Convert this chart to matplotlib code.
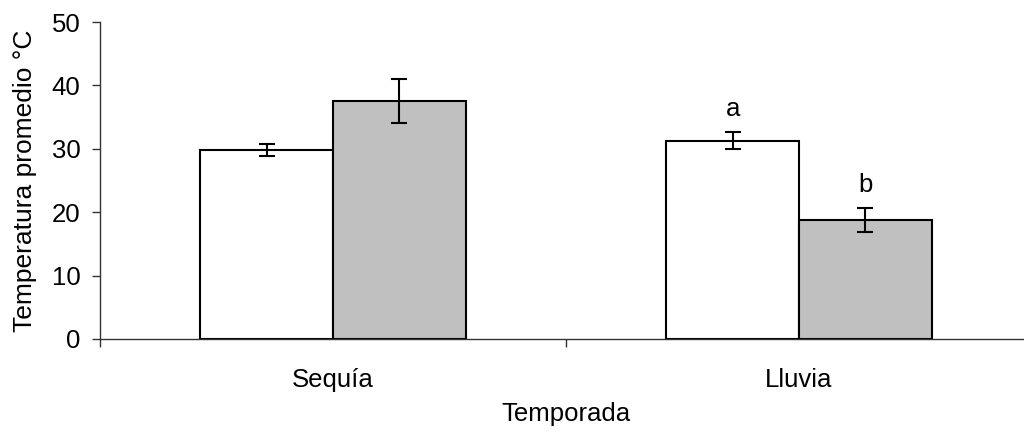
import numpy as np
from matplotlib import pyplot as plt

plt.rcParams['font.family'] = ['Liberation Sans', 'DejaVu Sans']

temporadas = ['Sequía', 'Lluvia']
serie_blanca = [29.8, 31.3]
err_blanca = [1.0, 1.35]
serie_gris = [37.5, 18.8]
err_gris = [3.5, 1.9]
letras_blanca = ['', 'a']
letras_gris = ['', 'b']

x = np.arange(len(temporadas))
ancho = 0.285

fig = plt.figure(figsize=(10.24, 4.34), dpi=100)
ax = fig.add_axes([100 / 1024, 95 / 434, 932 / 1024, 317 / 434])

err_kw = dict(ecolor='black', elinewidth=1.5, capsize=5.5, capthick=1.5)
ax.bar(x - ancho / 2, serie_blanca, ancho, color='white', edgecolor='black',
       linewidth=1.5, yerr=err_blanca, error_kw=err_kw, zorder=2)
ax.bar(x + ancho / 2, serie_gris, ancho, color='#c0c0c0', edgecolor='black',
       linewidth=1.5, yerr=err_gris, error_kw=err_kw, zorder=2)

for i in range(len(temporadas)):
    if letras_blanca[i]:
        ax.annotate(letras_blanca[i], (x[i] - ancho / 2, serie_blanca[i] + err_blanca[i]),
                    xytext=(0, 8), textcoords='offset points', ha='center',
                    va='bottom', fontsize=18.5)
    if letras_gris[i]:
        ax.annotate(letras_gris[i], (x[i] + ancho / 2, serie_gris[i] + err_gris[i]),
                    xytext=(0, 8), textcoords='offset points', ha='center',
                    va='bottom', fontsize=18.5)

ax.set_xlim(-0.5, 1.5)
ax.set_ylim(0, 50)
ax.set_yticks(range(0, 51, 10))
ax.set_xticks(x)
ax.set_xticklabels(temporadas)
ax.set_xticks([-0.5, 0.5, 1.5], minor=True)

for lado in ['top', 'right']:
    ax.spines[lado].set_visible(False)
for lado in ['left', 'bottom']:
    ax.spines[lado].set_color('#333333')
    ax.spines[lado].set_linewidth(1)

ax.tick_params(axis='y', direction='out', length=6, width=1, color='#333333',
               labelsize=18.5, pad=8)
ax.tick_params(axis='x', which='major', length=0, labelsize=18.5, pad=21)
ax.tick_params(axis='x', which='minor', direction='out', length=6, width=1,
               color='#333333')

ax.set_ylabel('Temperatura promedio °C', fontsize=19, labelpad=11)
ax.set_xlabel('Temporada', fontsize=18.5, labelpad=7)

fig.savefig('out.png', dpi=100)
